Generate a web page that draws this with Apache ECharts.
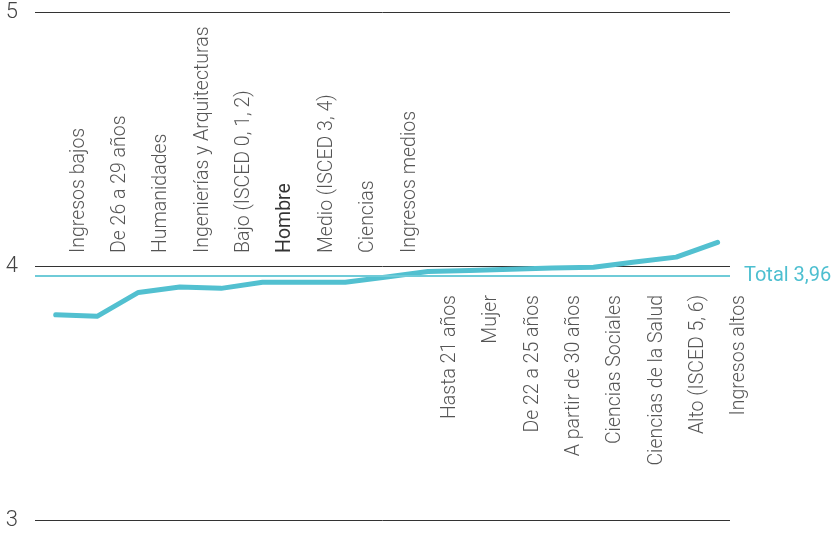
<!DOCTYPE html>
<html>
<head>
<meta charset="utf-8">
<script src="https://cdn.jsdelivr.net/npm/echarts@6/dist/echarts.min.js"></script>
<style>
html,body{margin:0;padding:0;background:#fff;}
#chart{width:833px;height:534px;}
</style>
</head>
<body>
<div id="chart"></div>
<script>
// ---- data ----
var categories = [
  "Ingresos bajos", "De 26 a 29 años", "Humanidades", "Ingenierías y Arquitecturas",
  "Bajo (ISCED 0, 1, 2)", "Hombre", "Medio (ISCED 3, 4)", "Ciencias", "Ingresos medios",
  "Hasta 21 años", "Mujer", "De 22 a 25 años", "A partir de 30 años",
  "Ciencias Sociales", "Ciencias de la Salud", "Alto (ISCED 5, 6)", "Ingresos altos"
];
var values = [3.808, 3.802, 3.896, 3.917, 3.912, 3.936, 3.936, 3.936, 3.957,
              3.978, 3.982, 3.987, 3.992, 3.995, 4.016, 4.035, 4.093];
var total = 3.96;
var totalLabel = "Total 3,96";
var boldCategories = ["Hombre"];
var yTicks = [3, 4, 5];

// ---- chart ----
var lineColor = '#52c0d0';
var totalColor = '#6fcbd8';
var textColor = '#2b2b2b';
var font = 'Roboto';

var lineData = categories.map(function (c, i) { return [i, values[i]]; });
var labelData = categories.map(function (c, i) {
  var above = values[i] <= total;
  var bold = boldCategories.indexOf(c) >= 0;
  return {
    value: [i, 4],
    name: c,
    label: {
      align: above ? 'left' : 'right',
      // offset is expressed in the rotated label frame
      offset: above ? [13, 23] : [-29, 22],
      fontWeight: bold ? 400 : 300,
      color: bold ? '#000' : textColor
    }
  };
});

var chart = echarts.init(document.getElementById('chart'), null, {renderer: 'canvas'});
chart.setOption({
  animation: false,
  backgroundColor: '#fff',
  grid: {left: 35, right: 103, top: 12, bottom: 14, containLabel: false},
  xAxis: {
    type: 'value', min: -0.5, max: 16.3, show: false
  },
  yAxis: {
    type: 'value', min: yTicks[0], max: yTicks[yTicks.length - 1], interval: 1,
    axisLine: {show: false}, axisTick: {show: false},
    axisLabel: {color: '#444', fontSize: 22, fontFamily: font, fontWeight: 300, margin: 17},
    splitLine: {lineStyle: {color: '#333', width: 1}}
  },
  series: [
    {
      type: 'line',
      data: lineData,
      symbol: 'none',
      z: 3,
      lineStyle: {color: lineColor, width: 5, cap: 'round', join: 'round'},
      markLine: {
        silent: true,
        symbol: 'none',
        data: [{yAxis: total}],
        lineStyle: {color: totalColor, width: 2, type: 'solid'},
        label: {
          position: 'end', formatter: totalLabel, color: '#4dbfd0',
          fontSize: 20, fontFamily: font, distance: 14
        }
      }
    },
    {
      type: 'scatter',
      data: labelData,
      symbolSize: 0,
      silent: true,
      z: 4,
      label: {
        show: true,
        position: 'inside',
        rotate: 90,
        verticalAlign: 'middle',
        fontSize: 19.5,
        fontFamily: font,
        formatter: function (p) { return p.name; }
      }
    }
  ]
});
</script>
</body>
</html>
